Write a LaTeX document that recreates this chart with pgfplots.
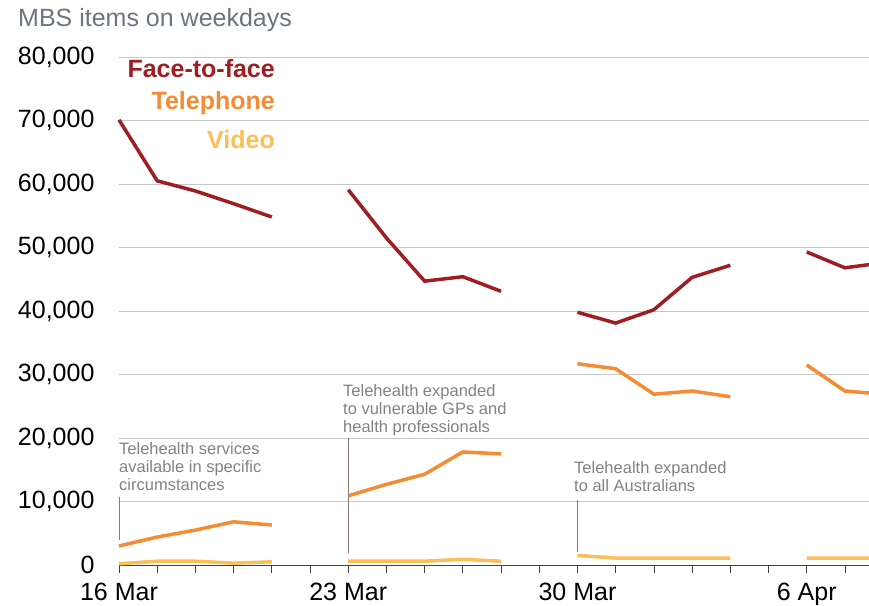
\documentclass[border=0pt]{standalone}
\usepackage{fontspec}
\setmainfont{Liberation Sans}
\usepackage{pgfplots}
\pgfplotsset{compat=1.18}
\definecolor{ftf}{RGB}{158,30,36}
\definecolor{phone}{RGB}{245,139,51}
\definecolor{video}{RGB}{253,190,85}
\definecolor{titlegray}{RGB}{108,116,126}
\definecolor{notegray}{RGB}{130,130,130}
\definecolor{notelines}{RGB}{140,120,115}

\begin{document}
\begin{tikzpicture}
\path[use as bounding box] (-119pt,-40pt) rectangle (750pt,565pt);
\begin{axis}[
    at={(0pt,0pt)}, anchor=south west,
    scale only axis,
    width=750pt, height=508pt,
    xmin=0, xmax=19.63,
    ymin=0, ymax=80000,
    clip=false,
    unbounded coords=jump,
    axis x line*=bottom,
    axis y line*=left,
    x axis line style={-, draw=black!75, line width=0.9pt},
    y axis line style={draw=none},
    xtick={0,...,19},
    xticklabels={16 Mar,,,,,,23 Mar,,,,,,30 Mar,,,,,,6 Apr,},
    ytick={0,10000,...,80000},
    scaled y ticks=false,
    ymajorgrids=true,
    grid style={black!22, line width=0.7pt},
    tick align=outside,
    major tick length=8pt,
    xtick style={draw=black!75, line width=0.8pt},
    ytick style={draw=none},
    tick label style={font=\fontsize{25}{25}\selectfont},
    y tick label style={xshift=-13pt},
    x tick label style={yshift=-7pt},
    /pgf/number format/assume math mode=true,
    /pgf/number format/1000 sep={,},
]
\addplot[ftf, line width=3.5pt] coordinates {
  (0,70100) (1,60500) (2,58900) (3,56900) (4,54800) (5,nan)
  (6,59100) (7,51500) (8,44700) (9,45400) (10,43100) (11,nan)
  (12,39800) (13,38100) (14,40200) (15,45300) (16,47200) (17,nan)
  (18,49300) (19,46800) (20,47600)
};
\addplot[phone, line width=3.5pt] coordinates {
  (0,3000) (1,4400) (2,5500) (3,6800) (4,6300) (5,nan)
  (6,10900) (7,12700) (8,14300) (9,17800) (10,17500) (11,nan)
  (12,31700) (13,30900) (14,26900) (15,27400) (16,26500) (17,nan)
  (18,31500) (19,27400) (20,26900)
};
\addplot[video, line width=3.5pt] coordinates {
  (0,200) (1,600) (2,600) (3,300) (4,500) (5,nan)
  (6,600) (7,600) (8,600) (9,900) (10,600) (11,nan)
  (12,1500) (13,1100) (14,1100) (15,1100) (16,1100) (17,nan)
  (18,1100) (19,1100) (20,1100)
};
\draw[notelines, line width=0.8pt] (axis cs:0,10700) -- (axis cs:0,3900);
\draw[notelines, line width=0.8pt] (axis cs:6,20000) -- (axis cs:6,1900);
\draw[notelines, line width=0.8pt] (axis cs:12,10200) -- (axis cs:12,2000);
\end{axis}
% title, legend and notes (1pt = 1px of the reference)
\node[anchor=west, inner sep=0, text=titlegray, font=\fontsize{25}{25}\selectfont]
  at (-101pt,545pt) {MBS items on weekdays};
\node[anchor=east, inner sep=0, text=ftf, font=\bfseries\fontsize{25}{25}\selectfont]
  at (156pt,496pt) {Face-to-face};
\node[anchor=east, inner sep=0, text=phone, font=\bfseries\fontsize{25}{25}\selectfont]
  at (156pt,462pt) {Telephone};
\node[anchor=east, inner sep=0, text=video, font=\bfseries\fontsize{25}{25}\selectfont]
  at (156pt,425pt) {Video};
\node[anchor=north west, inner sep=0, align=left, text=notegray,
  font=\fontsize{16.5}{18}\selectfont] at (0pt,123pt)
  {Telehealth services\\available in specific\\circumstances};
\node[anchor=north west, inner sep=0, align=left, text=notegray,
  font=\fontsize{16.5}{18}\selectfont] at (224pt,181pt)
  {Telehealth expanded\\to vulnerable GPs and\\health professionals};
\node[anchor=north west, inner sep=0, align=left, text=notegray,
  font=\fontsize{16.5}{18}\selectfont] at (455pt,104pt)
  {Telehealth expanded\\to all Australians};
\end{tikzpicture}
\end{document}
